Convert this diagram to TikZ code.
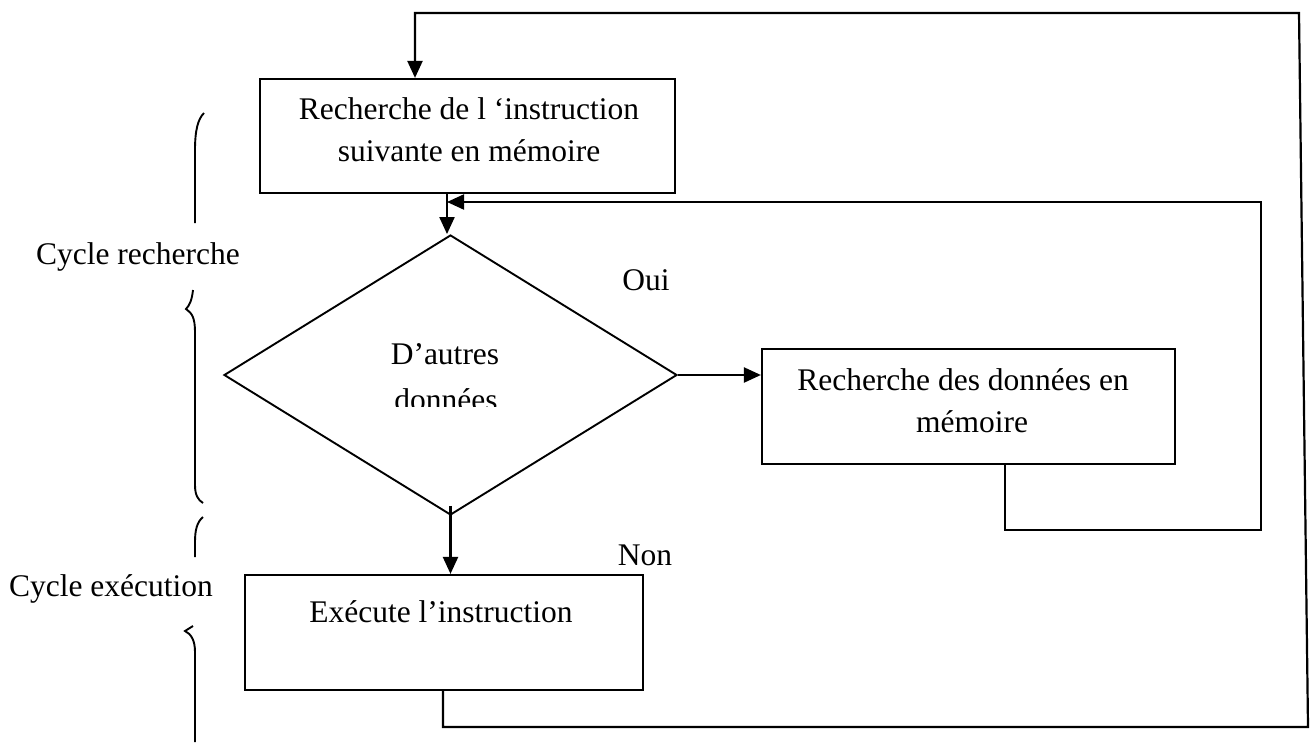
\documentclass[tikz,border=0pt]{standalone}
\usepackage{fontspec}
\setmainfont{Liberation Serif}
\usetikzlibrary{arrows.meta,shapes.geometric}
\begin{document}
\begin{tikzpicture}[x=1pt,y=-1pt,
  line width=2.2pt,
  box/.style={draw,rectangle,inner sep=0pt,line width=2.2pt},
  lbl/.style={anchor=base,inner sep=0pt,font=\fontsize{31.5}{42}\selectfont},
  arr/.style={-{Triangle[length=17pt,width=15pt]}},
  brace/.style={line width=1.9pt}]
\useasboundingbox (0,0) rectangle (1314,742);

% boxes and decision
\node[box,minimum width=415pt,minimum height=114pt] (box1) at (467.5,136) {};
\node[box,minimum width=413pt,minimum height=115pt] (box2) at (968.5,406.5) {};
\node[box,minimum width=398pt,minimum height=115pt] (box3) at (444,632.5) {};
\node[draw,diamond,minimum width=453pt,minimum height=280pt,inner sep=0pt,line width=1.9pt] (dia) at (450.5,375) {};

% texts
\node[lbl] (t1a) at (469,119) {Recherche de l ‘instruction};
\node[lbl] (t1b) at (469,161) {suivante en mémoire};
\node[lbl] (t2a) at (963,390) {Recherche des données en};
\node[lbl] (t2b) at (972,432) {mémoire};
\node[lbl] (t4) at (441,622) {Exécute l’instruction};
\node[lbl] (t3a) at (445,364) {D’autres};
\begin{scope}
  \clip (300,300) rectangle (600,406);
  \node[lbl] (t3b) at (446,410) {données};
\end{scope}
\node[lbl] (oui) at (646,290) {Oui};
\node[lbl] (non) at (645,565) {Non};
\node[lbl] (cr) at (138,264) {Cycle recherche};
\node[lbl] (ce) at (111,596) {Cycle exécution};

% connectors
\coordinate (fbA) at (1005,530);
\coordinate (fbB) at (1261,530);
\coordinate (fbC) at (1261,202);
\coordinate (fbD) at (447,202);
\coordinate (topL) at (415,13);
\coordinate (topR) at (1299,13);
\coordinate (botR) at (1308,727);
\coordinate (botL) at (443,727);

\draw[arr] (box1.south -| fbD) -- (fbD |- dia.north);
\draw[arr] (dia.east) -- (box2.west |- dia.east);
\draw[arr] ([yshift=10pt]dia.south) -- (dia.south |- box3.north);
\draw[arr] (box2.south -| fbA) -- (fbA) -- (fbB) -- (fbC) -- (fbD);
\draw[arr] (box3.south -| botL) -- (botL) -- (botR) -- (topR) -- (topL) -- (topL |- box1.north);

% braces
\draw[brace] (204,113) .. controls (198,119) and (195,130) .. (195,150) -- (195,223);
\draw[brace] (193,290) .. controls (192,299) and (190,305) .. (186,309)
  .. controls (192,313) and (195,318) .. (195,332) -- (195,485)
  .. controls (195,495) and (198,500) .. (203,503);
\draw[brace] (203,517) .. controls (197,522) and (195,530) .. (195,542) -- (195,557);
\draw[brace] (193,626) -- (185,631)
  .. controls (191,634) and (195,640) .. (195,652) -- (195,742);
\end{tikzpicture}
\end{document}
